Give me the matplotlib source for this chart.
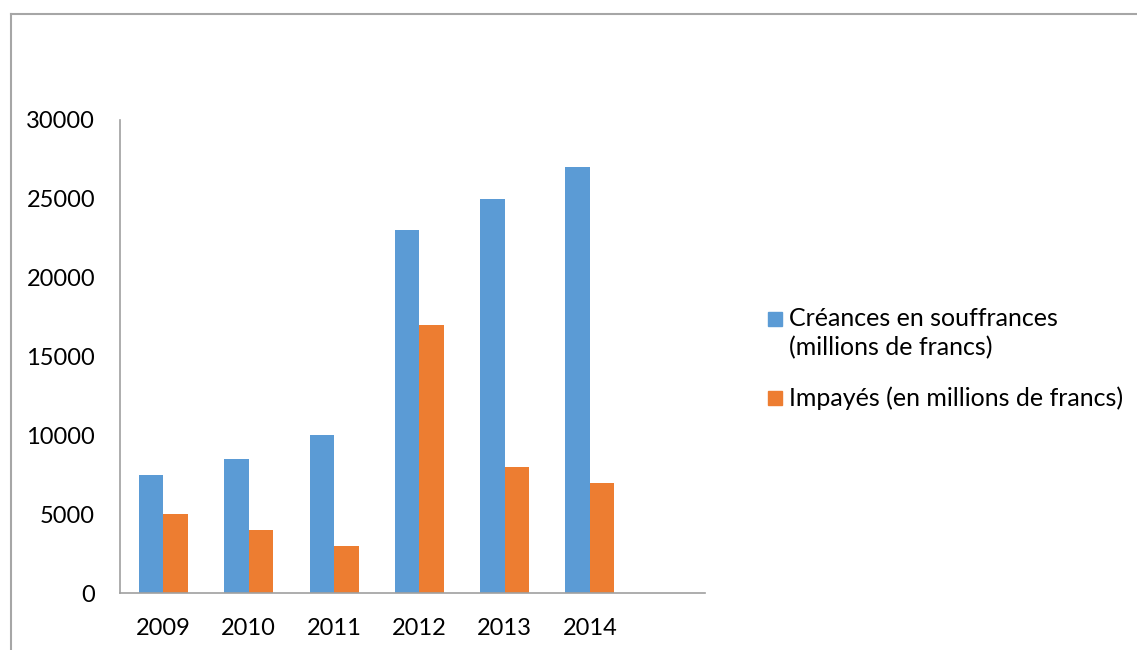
import numpy as np
import matplotlib.pyplot as plt
from matplotlib.lines import Line2D
from matplotlib.patches import Rectangle

plt.rcParams['font.family'] = ['Lato', 'DejaVu Sans']

years = ['2009', '2010', '2011', '2012', '2013', '2014']
creances = [7500, 8500, 10000, 23000, 25000, 27000]
impayes = [5000, 4000, 3000, 17000, 8000, 7000]
series_names = ['Créances en souffrances\n(millions de francs)',
                'Impayés (en millions de francs)']
colors = ['#5B9BD5', '#ED7D31']

W, H = 1137, 650
fig = plt.figure(figsize=(W / 100, H / 100), dpi=100)

# outer chart frame (top and left edges visible)
frame_col = '#a6a6a6'
fig.add_artist(Line2D([11 / W, 1.0], [1 - 14 / H, 1 - 14 / H], color=frame_col, lw=1.5,
                      transform=fig.transFigure))
fig.add_artist(Line2D([11 / W, 11 / W], [0, 1 - 14 / H], color=frame_col, lw=1.5,
                      transform=fig.transFigure))

ax = fig.add_axes([120 / W, 57 / H, (705 - 120) / W, (593 - 120) / H])

x = np.arange(len(years))
bw = 0.287
ax.bar(x - bw / 2, creances, bw, color=colors[0])
ax.bar(x + bw / 2, impayes, bw, color=colors[1])

ax.set_xlim(-0.51, 6.35)
ax.set_ylim(0, 30000)
ax.set_yticks(np.arange(0, 30001, 5000))
ax.set_xticks(x)
ax.set_xticklabels(years)
ax.tick_params(axis='both', length=0, labelsize=17)
ax.tick_params(axis='y', pad=18)
ax.tick_params(axis='x', pad=18)
for s in ['top', 'right']:
    ax.spines[s].set_visible(False)
for s in ['left', 'bottom']:
    ax.spines[s].set_color('#a0a0a0')
    ax.spines[s].set_linewidth(1.2)

# legend drawn by hand so the marker sits on the first text line
leg_y = [319, 398]
for name, col, yc in zip(series_names, colors, leg_y):
    fig.add_artist(Rectangle((768 / W, 1 - (yc + 7) / H), 14 / W, 14 / H,
                             color=col, transform=fig.transFigure))
    fig.text(789 / W, 1 - (yc - 12) / H, name, fontsize=18, va='top', ha='left',
             linespacing=1.3)

fig.savefig('out.png', dpi=100)
